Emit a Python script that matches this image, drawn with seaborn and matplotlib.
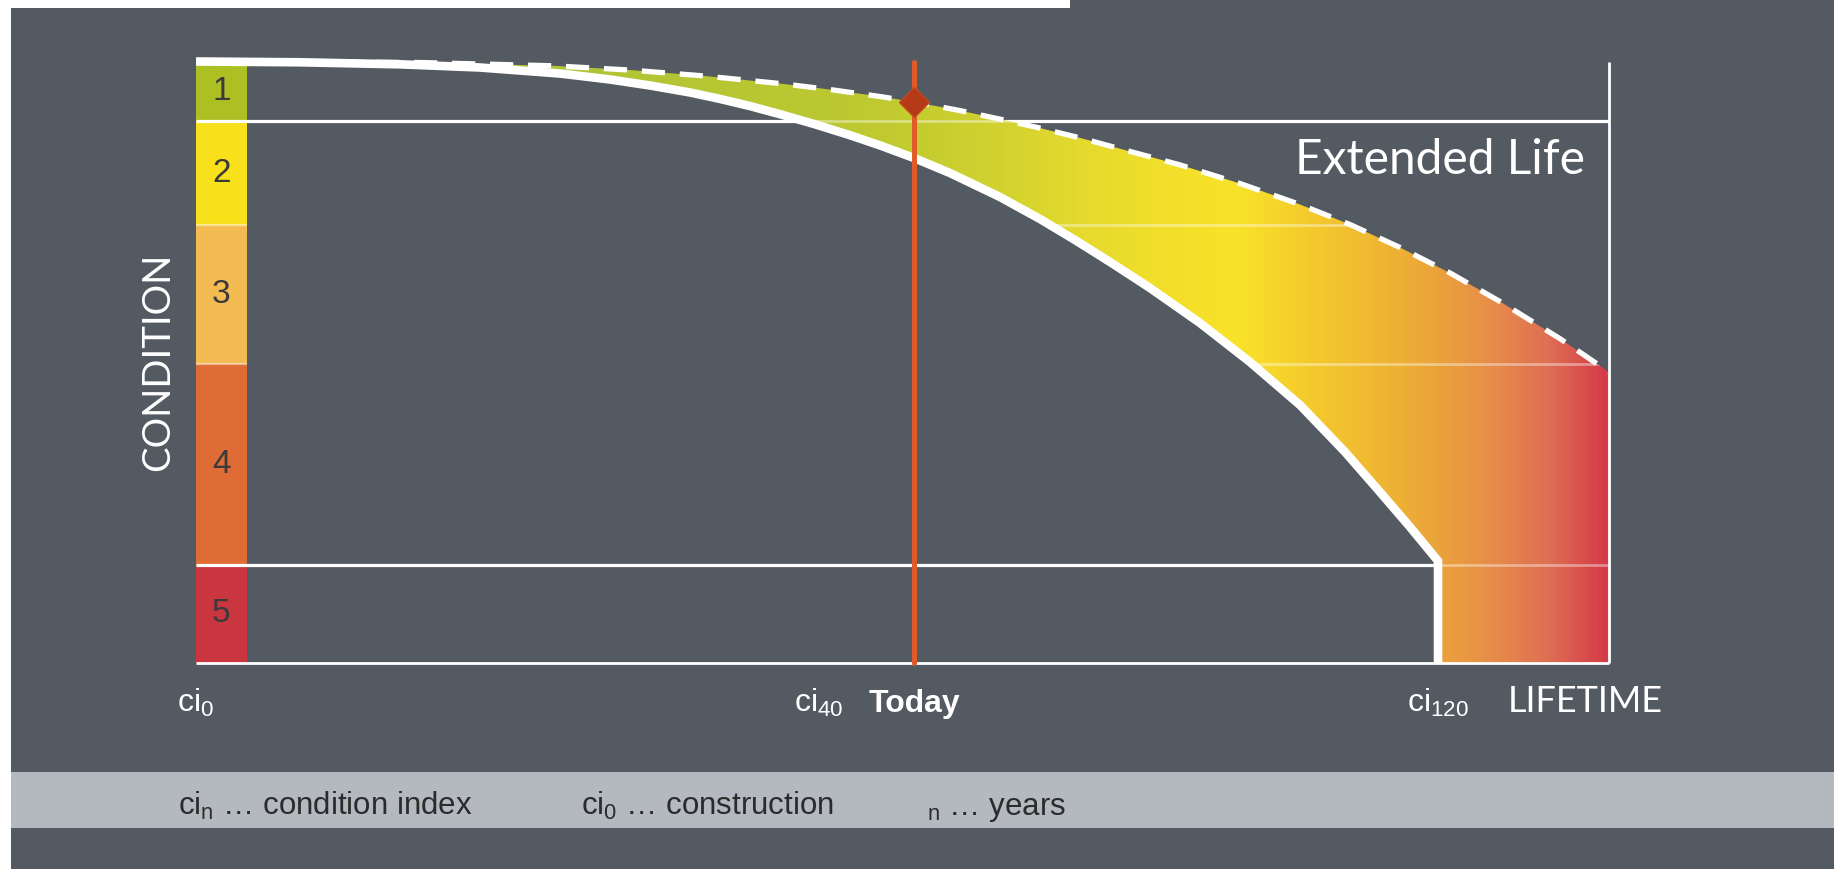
import numpy as np
import pandas as pd
import matplotlib
matplotlib.use("Agg")
import matplotlib.pyplot as plt
from matplotlib import font_manager
from matplotlib.colors import LinearSegmentedColormap
from matplotlib.patches import Rectangle
import seaborn as sns

# ---------------------------------------------------------------- data
# condition classes on a 0-100 deterioration scale (0 = as built)
band_labels = ["1", "2", "3", "4", "5"]
band_edges = [0.0, 9.9, 27.2, 50.3, 83.7, 100.0]
band_colors = ["#adc023", "#f8e01b", "#f3bb52", "#e06c35", "#c9363f"]

# lifetime runs 0-100 along the horizontal axis
# deterioration without maintenance (solid curve)
lower_x = [0.0, 7.36, 14.44, 20.10, 25.76, 29.30, 32.13, 34.96, 37.08, 39.21,
           41.33, 43.81, 46.28, 48.41, 50.81, 53.36, 56.90, 59.73, 62.21, 64.69,
           67.52, 71.05, 74.59, 78.13, 81.32, 83.79, 85.92, 87.9, 87.9]
lower_y = [0.0, 0.13, 0.47, 1.00, 2.00, 2.99, 3.99, 5.15, 6.22, 7.41,
           8.76, 10.44, 12.25, 13.95, 16.04, 18.54, 22.53, 26.18, 29.68, 33.33,
           37.66, 43.47, 49.96, 57.11, 64.92, 71.57, 77.39, 83.04, 100.0]

# deterioration with maintenance, extended life (dashed curve)
upper_x = [7.36, 15.85, 25.27, 30.79, 36.02, 41.33, 44.87, 48.41, 50.81, 54.07,
           56.90, 59.73, 62.56, 66.10, 69.64, 73.88, 78.13, 81.67, 85.21, 88.75,
           92.28, 96.53, 100.0]
upper_y = [0.07, 0.17, 0.71, 1.43, 2.41, 3.66, 4.66, 5.82, 6.72, 8.16,
           9.58, 11.07, 12.70, 14.95, 17.19, 20.28, 23.77, 27.10, 30.92, 35.16,
           39.90, 46.08, 51.62]

today_x = 50.81
today_y = 6.72

tick_labels = ["ci$_0$", "ci$_{40}$", "ci$_{120}$"]
tick_x = [0.0, 45.8, 87.9]
tick_align = ["center", "right", "center"]
today_label = "Today"
axis_label_x = "LIFETIME"
axis_label_y = "CONDITION"
extended_label = "Extended Life"

footer_items = ["ci$_n$ \u2026 condition index",
                "ci$_0$ \u2026 construction",
                "${}_n$ \u2026 years"]

# colour ramp of the band between the two curves
gradient_x = [0, 25, 45, 51, 57, 63, 70, 74, 78, 84, 88, 92, 96, 100]
gradient_colors = ["#a9bf2c", "#afc435", "#bcc831", "#c4cc2f", "#d2d22f",
                   "#e6da2d", "#f4e02a", "#f9e229", "#f5cf2c", "#efb632",
                   "#eaa43a", "#e78c4a", "#df6f54", "#d43c48"]

# ---------------------------------------------------------------- style
BG = "#535a62"
FOOTER_BG = "#b4b8bf"
RED = "#e05a2a"

sns.set_theme(style="dark", rc={"axes.facecolor": BG, "figure.facecolor": BG})


def has_font(name):
    try:
        font_manager.findfont(font_manager.FontProperties(family=name),
                              fallback_to_default=False)
        return True
    except Exception:
        return False


SANS = "Liberation Sans" if has_font("Liberation Sans") else "DejaVu Sans"
THIN = "Lato" if has_font("Lato") else SANS

plt.rcParams["font.family"] = [SANS, "DejaVu Sans"]
plt.rcParams["mathtext.default"] = "regular"

W, H = 1834, 869
fig = plt.figure(figsize=(W / 100, H / 100), dpi=100)
fig.patch.set_facecolor(BG)

# page frame and footer strip
fig.add_artist(Rectangle((0, 1 - 8 / H), 1070 / W, 8 / H, transform=fig.transFigure,
                         facecolor="white", edgecolor="none"))
fig.add_artist(Rectangle((0, 0), 11 / W, 1, transform=fig.transFigure,
                         facecolor="white", edgecolor="none"))
fig.add_artist(Rectangle((11 / W, 1 - 828 / H), 1, 56 / H, transform=fig.transFigure,
                         facecolor=FOOTER_BG, edgecolor="none"))

ax = fig.add_axes([196 / W, 1 - 663 / H, 1413 / W, 601.5 / H])

# condition scale bar
bar_w = 3.6
heights = np.diff(band_edges)
ax.bar(x=[bar_w / 2] * 5, height=heights, bottom=band_edges[:-1], width=bar_w,
       color=band_colors, align="center", zorder=1, linewidth=0)
for lab, top, h in zip(band_labels, band_edges[:-1], heights):
    ax.text(bar_w / 2, top + h / 2, lab, ha="center", va="center",
            fontsize=24, color="#3a3a3a", family=[SANS, "DejaVu Sans"], zorder=6)
ax.hlines(band_edges[2:4], 0, bar_w, color="white", alpha=0.45, lw=1.6, zorder=1.2)

# condition limits
ax.hlines([band_edges[1], band_edges[4]], 0, 100, color="white", lw=2.3,
          zorder=1.5, clip_on=False)

# shaded band between the curves
poly_x = list(upper_x) + [100.0] + list(lower_x[::-1])
poly_y = list(upper_y) + [100.0] + list(lower_y[::-1])
poly = ax.fill(poly_x, poly_y, facecolor="none", edgecolor="none", zorder=2)[0]
cmap = LinearSegmentedColormap.from_list(
    "life", list(zip(np.array(gradient_x) / 100.0, gradient_colors)))
ramp = np.linspace(0, 1, 600)[None, :]
im = ax.imshow(ramp, cmap=cmap, extent=(0, 100, 100, 0), aspect="auto",
               interpolation="bilinear", zorder=2)
im.set_clip_path(poly)
faint = ax.hlines(band_edges[1:5], 0, 100, color="white", alpha=0.4, lw=2, zorder=2.5)
faint.set_clip_path(poly)

# frame: right edge and baseline
ax.vlines(100, 0, 100, color="white", lw=2, zorder=3, clip_on=False)
ax.hlines(100, 0, 100, color="white", lw=2, zorder=3, clip_on=False)

# curves
lower_df = pd.DataFrame({"lifetime": lower_x, "condition": lower_y})
upper_df = pd.DataFrame({"lifetime": upper_x, "condition": upper_y})
sns.lineplot(data=lower_df, x="lifetime", y="condition", ax=ax, color="white",
             linewidth=6.2, sort=False, estimator=None, zorder=4, clip_on=False,
             solid_capstyle="butt", solid_joinstyle="miter")
sns.lineplot(data=upper_df, x="lifetime", y="condition", ax=ax, color="white",
             linewidth=3.8, sort=False, estimator=None, zorder=4, clip_on=False,
             linestyle=(0, (4.4, 2.8)), dash_capstyle="butt")
ax.set_xlim(0, 100)
ax.set_ylim(100, 0)
ax.set_axis_off()

# today marker
ax.axvline(today_x, ymin=0, ymax=1.0, color=RED, lw=3.6, zorder=5, clip_on=False)
ax.plot([today_x], [today_y], marker="D", markersize=15, color="#b43a18",
        markeredgecolor="#c8451e", markeredgewidth=1, zorder=6, clip_on=False)

# texts
ax.text(98.3, 18.7, extended_label, ha="right", va="baseline", color="white",
        fontsize=34.5, fontweight="normal", family=[THIN, "DejaVu Sans"], zorder=7)
ax.text(-2.69, 50, axis_label_y, rotation=90, ha="center", va="center",
        color="white", fontsize=27.5, fontweight="normal", family=[THIN, "DejaVu Sans"])

label_y = 108.1
for lab, x, a in zip(tick_labels, tick_x, tick_align):
    ax.text(x, label_y, lab, ha=a, va="baseline", color="white", fontsize=23,
            family=[SANS, "DejaVu Sans"])
ax.text(today_x, label_y, today_label, ha="center", va="baseline", color="white",
        fontsize=23, fontweight="bold", family=[SANS, "DejaVu Sans"])
ax.text(92.85, label_y, axis_label_x, ha="left", va="baseline", color="white",
        fontsize=26, fontweight="normal", family=[THIN, "DejaVu Sans"])

footer_left = [178, 581, 927]
for txt, xl in zip(footer_items, footer_left):
    fig.text(xl / W, 1 - 815 / H, txt, ha="left", va="baseline", color="#2b2b2b",
             fontsize=22.5, family=[SANS, "DejaVu Sans"])

fig.savefig("out.png", dpi=100, facecolor=BG)
